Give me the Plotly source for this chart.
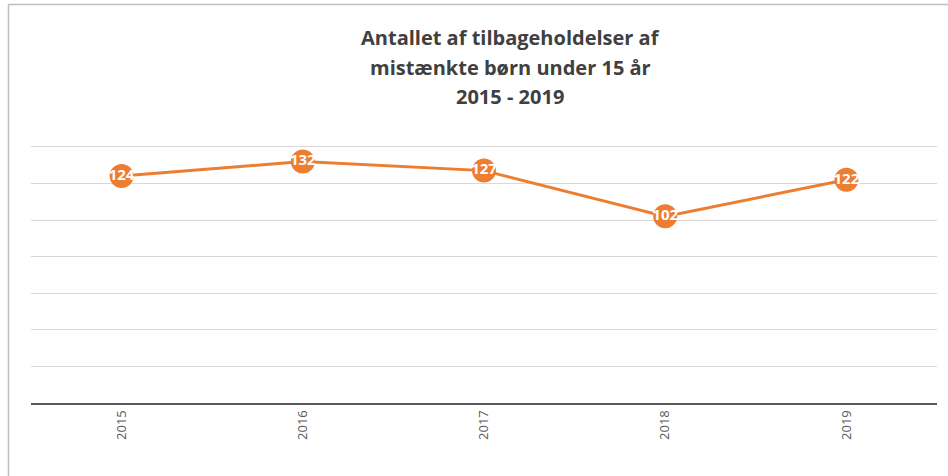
import plotly.graph_objects as go

years = ["2015", "2016", "2017", "2018", "2019"]
values = [124, 132, 127, 102, 122]
title_lines = ["Antallet af tilbageholdelser af", "mistænkte børn under 15 år", "2015 - 2019"]

W, H = 948, 476
L, R, T, B = 31, 11, 145, 73
YMAX = 141

orange = "#ED7D31"
font_fam = "Liberation Sans Narrow, Open Sans, sans-serif"

fig = go.Figure()
fig.add_trace(go.Scatter(
    x=years, y=values, mode="lines+markers+text",
    line=dict(color=orange, width=3),
    marker=dict(color=orange, size=24),
    text=[str(v) for v in values], textposition="middle center",
    textfont=dict(color="white", size=15, family=font_fam, weight="bold"),
    cliponaxis=False, hoverinfo="skip", showlegend=False,
))

pw = W - L - R
ph = H - T - B


def px_to_paper_y(py):
    return (H - B - py) / ph


def px_to_paper_x(px):
    return (px - L) / pw


title_y = [38, 68, 97]
annotations = [dict(
    text="<b>" + line + "</b>",
    xref="paper", yref="paper",
    x=px_to_paper_x(510), y=px_to_paper_y(yy),
    xanchor="center", yanchor="middle", showarrow=False,
    font=dict(size=20, color="#404040", family=font_fam),
) for line, yy in zip(title_lines, title_y)]

fig.update_layout(
    width=W, height=H,
    margin=dict(l=L, r=R, t=T, b=B),
    paper_bgcolor="white", plot_bgcolor="white",
    font=dict(family=font_fam, color="#595959"),
    xaxis=dict(type="category", tickangle=-90, showgrid=False,
               showline=True, linecolor="#595959", linewidth=2,
               ticks="", tickfont=dict(size=13, color="#595959"),
               range=[-0.5, 4.5], fixedrange=True),
    yaxis=dict(range=[0, YMAX], dtick=20, showticklabels=False,
               showgrid=True, gridcolor="#D9D9D9", gridwidth=1,
               zeroline=False, showline=False, ticks="", fixedrange=True),
    annotations=annotations,
    shapes=[
        dict(type="line", xref="paper", yref="paper",
             x0=px_to_paper_x(8.5), x1=px_to_paper_x(8.5),
             y0=px_to_paper_y(4), y1=px_to_paper_y(H + 5),
             line=dict(color="#BFBFBF", width=1.5)),
        dict(type="line", xref="paper", yref="paper",
             x0=px_to_paper_x(8.5), x1=px_to_paper_x(W + 5),
             y0=px_to_paper_y(4.5), y1=px_to_paper_y(4.5),
             line=dict(color="#BFBFBF", width=1.5)),
    ],
)

fig.write_html("out.html", config={"displayModeBar": False},
               post_script="document.body.style.margin='0';document.body.style.overflow='hidden';")
